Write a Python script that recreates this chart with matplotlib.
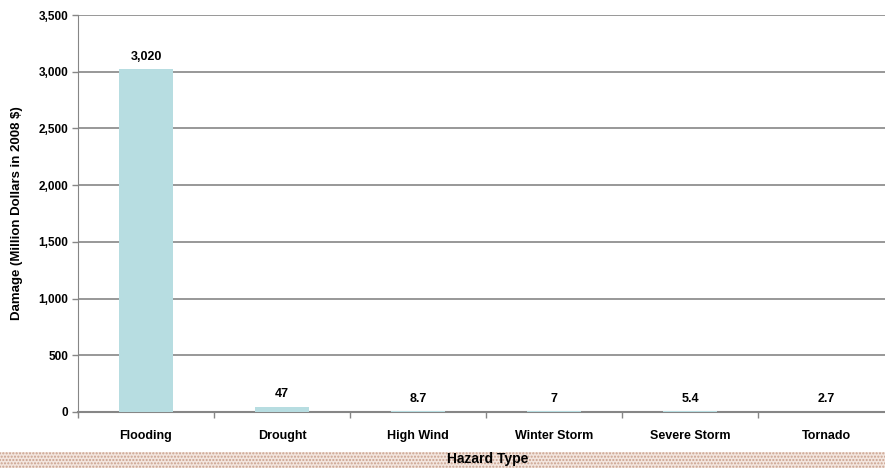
import matplotlib
matplotlib.use("Agg")
import matplotlib.pyplot as plt
from matplotlib.patches import Rectangle
from matplotlib.ticker import FuncFormatter, FixedLocator

categories = ["Flooding", "Drought", "High Wind", "Winter Storm", "Severe Storm", "Tornado"]
values = [3020, 47, 8.7, 7, 5.4, 2.7]
value_labels = ["3,020", "47", "8.7", "7", "5.4", "2.7"]
yticks = [0, 500, 1000, 1500, 2000, 2500, 3000, 3500]

plt.rcParams['font.family'] = ['Liberation Sans', 'DejaVu Sans']

W, H = 885, 468
fig = plt.figure(figsize=(W / 100, H / 100), dpi=100)
fig.patch.set_facecolor('white')

# decorative dotted band at bottom
band = Rectangle((0, 0), 1, 16 / H, transform=fig.transFigure, facecolor='#f3e6df',
                 edgecolor='#c9a08c', hatch='.....', linewidth=0, zorder=0)
fig.patches.append(band)

left, right = 78, 894
bottom, top = 412, 15
ax = fig.add_axes([left / W, (H - bottom) / H, (right - left) / W, (bottom - top) / H])
ax.set_facecolor('white')

x = list(range(len(categories)))
ax.bar(x, values, width=0.4, color='#b7dde1', zorder=3)

for xi, v, lab in zip(x, values, value_labels):
    ax.annotate(lab, (xi, v), xytext=(0, 4.5), textcoords='offset points',
                ha='center', va='bottom', fontsize=9, fontweight='bold', color='black')

ax.set_xlim(-0.5, len(categories) - 0.5)
ax.set_ylim(0, 3500)
ax.set_yticks(yticks)
ax.yaxis.set_major_formatter(FuncFormatter(lambda v, p: f"{int(v):,}"))
ax.yaxis.grid(True, color='#868686', linewidth=1.2, zorder=1)
ax.set_axisbelow(True)

ax.xaxis.set_major_locator(FixedLocator([i + 0.5 for i in range(-1, len(categories))]))
ax.xaxis.set_ticklabels([])
ax.xaxis.set_minor_locator(FixedLocator(x))
ax.xaxis.set_ticklabels(categories, minor=True)
ax.tick_params(axis='x', which='minor', length=0, pad=13, labelsize=9)
ax.tick_params(axis='x', which='major', length=4, color='#868686', width=1)
ax.tick_params(axis='y', length=4, color='#868686', width=1, labelsize=8.5, pad=3)
for lab in ax.get_yticklabels() + ax.get_xticklabels(minor=True):
    lab.set_fontweight('bold')

for s in ['top', 'right']:
    ax.spines[s].set_visible(False)
ax.spines['left'].set_color('#868686')
ax.spines['bottom'].set_color('#868686')
ax.spines['bottom'].set_linewidth(1.5)

ax.set_ylabel("Damage (Million Dollars in 2008 $)", fontsize=9.5, fontweight='bold', labelpad=11)
fig.text(488 / W, (H - 459) / H, "Hazard Type", ha='center', va='center',
         fontsize=10, fontweight='bold')

fig.savefig("out.png", dpi=100, facecolor='white')
